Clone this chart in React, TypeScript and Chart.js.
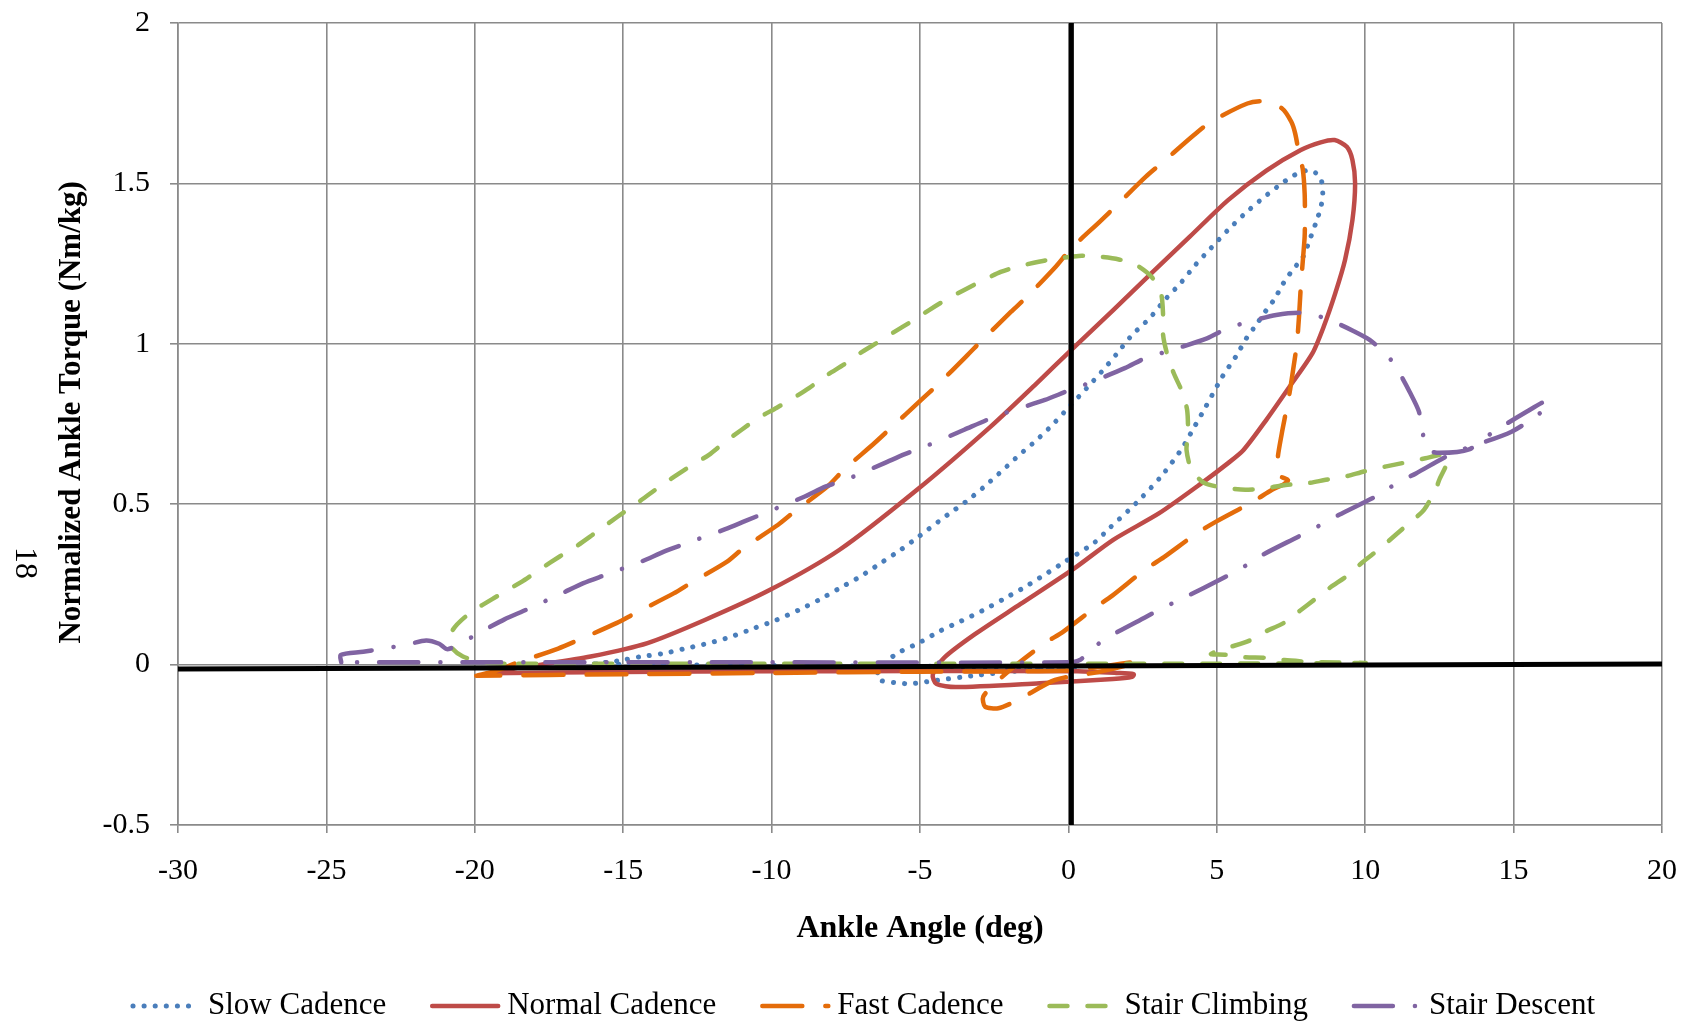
import React, { useEffect, useRef } from 'react';
import { Chart, registerables } from 'chart.js';

Chart.register(...registerables);

const FONT = "'Liberation Serif', 'Times New Roman', serif";

// ---- axes ----
const xTicks = [-30, -25, -20, -15, -10, -5, 0, 5, 10, 15, 20];
const xTickLabels = ['-30', '-25', '-20', '-15', '-10', '-5', '0', '5', '10', '15', '20'];
const yTicks = [-0.5, 0, 0.5, 1, 1.5, 2];
const yTickLabels = ['-0.5', '0', '0.5', '1', '1.5', '2'];

// ---- series (ankle angle deg, torque Nm/kg) ----
const slowX = [-15.97, -15.14, -14.39, -13.63, -12.87, -12.11, -11.36, -10.6, -9.84, -9.09, -8.4, -7.71, -7.02, -6.33, -5.65, -5.03, -4.07, -3.45, -2.83, -2.2, -1.65, -1.07, -0.49, 0.03, 0.61, 1.12, 1.64, 2.15, 2.74, 3.25, 3.77, 4.28, 4.8, 5.38, 5.96, 6.54, 7.19, 7.6, 8.0, 8.3, 8.52, 8.57, 8.52, 8.41, 8.15, 7.9, 7.57, 7.25, 6.95, 6.67, 6.28, 6.03, 5.64, 5.19, 4.6, 4.22, 3.83, 3.12, 2.28, 1.38, 0.86, -0.13, -0.84, -1.48, -2.19, -2.9, -3.61, -4.32, -5.03, -5.73, -6.12, -6.45, -6.3, -5.73, -5.35, -4.51, -3.16, -1.87, -0.45, 0.3, -4, -10, -15.97];
const slowY = [0.002, 0.012, 0.025, 0.035, 0.051, 0.067, 0.087, 0.113, 0.139, 0.17, 0.202, 0.238, 0.274, 0.316, 0.358, 0.4, 0.467, 0.508, 0.555, 0.607, 0.654, 0.7, 0.752, 0.804, 0.861, 0.913, 0.97, 1.028, 1.08, 1.137, 1.188, 1.246, 1.298, 1.355, 1.407, 1.453, 1.5, 1.525, 1.54, 1.535, 1.51, 1.469, 1.432, 1.396, 1.329, 1.27, 1.232, 1.19, 1.14, 1.105, 1.053, 1.022, 0.96, 0.898, 0.799, 0.737, 0.674, 0.586, 0.503, 0.425, 0.379, 0.32, 0.278, 0.241, 0.204, 0.168, 0.136, 0.105, 0.068, 0.037, 0.01, -0.03, -0.05, -0.057, -0.06, -0.05, -0.034, -0.021, -0.016, -0.012, -0.006, -0.003, 0.002];

const normalX = [-19.55, -18.7, -17.76, -16.1, -14.18, -12.25, -10.05, -7.71, -5.1, -2.62, -1.07, 0.09, 1.51, 2.8, 4.09, 5.38, 6.67, 7.83, 8.5, 8.97, 9.38, 9.57, 9.66, 9.57, 9.32, 8.99, 8.6, 8.22, 7.45, 6.67, 5.9, 5.38, 4.48, 3.06, 1.51, 0.2, -1.61, -3.16, -4.19, -4.57, -4.45, -3.8, -0.97, 1.5, 2.15, 2.2, 1.61, 0.32, -5, -10, -15, -19.55];
const normalY = [-0.027, -0.012, 0.0, 0.025, 0.067, 0.139, 0.233, 0.358, 0.545, 0.742, 0.877, 0.98, 1.105, 1.22, 1.334, 1.448, 1.54, 1.604, 1.628, 1.635, 1.614, 1.573, 1.5, 1.386, 1.261, 1.157, 1.053, 0.97, 0.866, 0.763, 0.669, 0.628, 0.565, 0.472, 0.389, 0.3, 0.189, 0.094, 0.021, -0.031, -0.06, -0.07, -0.058, -0.045, -0.038, -0.03, -0.026, -0.021, -0.02, -0.021, -0.023, -0.027];

const fastX = [-19.95, -19.3, -18.6, -17.19, -16.5, -15.21, -14.6, -13.3, -12.73, -11.5, -10.95, -9.78, -9.23, -8.12, -7.57, -6.54, -5.99, -4.96, -4.41, -3.45, -2.9, -1.93, -1.38, -0.42, 0.09, 1.06, 1.64, 2.61, 3.19, 4.22, 4.8, 6.03, 6.6, 7.19, 7.51, 7.64, 7.77, 7.9, 7.96, 7.97, 7.96, 7.9, 7.83, 7.77, 7.7, 7.57, 7.45, 7.32, 7.19, 7.05, 7.1, 7.4, 7.25, 6.86, 6.22, 4.96, 4.32, 3.22, 2.58, 1.48, 0.9, -0.17, -0.79, -1.74, -2.41, -2.87, -2.81, -2.36, -1.69, -0.45, 1.07, 2.41, 0, -5, -10, -15, -19.95];
const fastY = [-0.035, -0.02, 0.005, 0.05, 0.077, 0.13, 0.16, 0.222, 0.254, 0.321, 0.363, 0.436, 0.477, 0.555, 0.607, 0.69, 0.737, 0.825, 0.872, 0.96, 1.012, 1.1, 1.148, 1.241, 1.297, 1.381, 1.433, 1.521, 1.567, 1.65, 1.692, 1.749, 1.756, 1.734, 1.692, 1.656, 1.593, 1.542, 1.469, 1.4, 1.334, 1.261, 1.178, 1.085, 1.002, 0.918, 0.846, 0.783, 0.721, 0.64, 0.59, 0.575, 0.562, 0.545, 0.508, 0.445, 0.409, 0.335, 0.296, 0.215, 0.178, 0.103, 0.067, 0.0, -0.053, -0.1, -0.131, -0.136, -0.11, -0.048, -0.022, 0.01, -0.018, -0.022, -0.026, -0.03, -0.035];

const climbX = [-19.0, -19.7, -20.4, -20.8, -20.85, -20.6, -20.1, -19.4, -18.9, -18.24, -17.76, -17.14, -16.59, -16.04, -15.49, -14.87, -14.39, -13.77, -13.28, -12.66, -12.11, -11.56, -11.01, -10.46, -9.84, -9.29, -8.74, -8.12, -7.57, -7.02, -6.47, -5.85, -5.3, -4.68, -4.13, -3.51, -2.96, -2.28, -1.73, -1.0, -0.36, 0.35, 0.99, 1.7, 2.28, 2.8, 3.12, 3.19, 3.19, 3.32, 3.55, 3.83, 4.0, 4.03, 3.98, 4.15, 4.6, 5.38, 5.96, 6.67, 7.32, 8.03, 8.67, 9.32, 9.96, 10.67, 11.25, 12.03, 12.6, 12.8, 12.5, 12.37, 11.98, 11.53, 11.02, 10.5, 9.92, 9.41, 8.83, 8.31, 7.8, 7.28, 6.57, 6.06, 5.35, 4.8, 5.28, 5.93, 6.64, 7.28, 7.86, 8.25, 10.0, 5, 0, -10, -19.0];
const climbY = [0.003, 0.007, 0.025, 0.055, 0.09, 0.125, 0.165, 0.205, 0.232, 0.269, 0.3, 0.337, 0.368, 0.404, 0.441, 0.482, 0.513, 0.555, 0.586, 0.623, 0.654, 0.695, 0.732, 0.768, 0.8, 0.83, 0.862, 0.903, 0.935, 0.971, 1.002, 1.038, 1.069, 1.106, 1.137, 1.168, 1.194, 1.224, 1.24, 1.256, 1.266, 1.274, 1.272, 1.263, 1.246, 1.209, 1.157, 1.09, 1.028, 0.97, 0.908, 0.851, 0.794, 0.721, 0.669, 0.607, 0.565, 0.55, 0.545, 0.55, 0.56, 0.565, 0.576, 0.586, 0.602, 0.617, 0.628, 0.643, 0.654, 0.64, 0.577, 0.545, 0.482, 0.445, 0.404, 0.362, 0.32, 0.278, 0.241, 0.204, 0.168, 0.131, 0.1, 0.073, 0.052, 0.033, 0.031, 0.023, 0.021, 0.014, 0.01, 0.008, 0.005, 0.003, 0.003, 0.003, 0.003];

const descentX = [-24.5, -24.52, -23.76, -22.36, -21.64, -21.2, -20.9, -19.68, -19.0, -18.24, -17.07, -16.34, -15.58, -14.34, -13.63, -12.87, -11.56, -10.88, -10.19, -8.88, -8.19, -7.51, -6.2, -5.51, -4.75, -3.51, -2.79, -2.14, -0.79, -0.08, 0.67, 1.9, 2.63, 3.32, 4.67, 5.35, 6.09, 7.0, 7.8, 8.4, 8.93, 9.6, 10.15, 10.74, 11.16, 11.5, 11.81, 11.94, 12.1, 12.5, 13.5, 14.25, 15.45, 16.13, 16.09, 14.93, 12.94, 11.71, 11.06, 10.35, 9.12, 8.45, 7.77, 6.54, 5.86, 5.15, 3.93, 3.26, 2.58, 1.35, 0.73, 0.4, 0.0, -10, -20, -24.5];
const descentY = [0.007, 0.03, 0.04, 0.061, 0.075, 0.065, 0.048, 0.108, 0.141, 0.172, 0.222, 0.254, 0.28, 0.323, 0.352, 0.378, 0.422, 0.448, 0.474, 0.524, 0.555, 0.576, 0.628, 0.656, 0.683, 0.732, 0.761, 0.784, 0.825, 0.851, 0.877, 0.924, 0.957, 0.976, 1.017, 1.048, 1.069, 1.09, 1.097, 1.087, 1.069, 1.04, 1.012, 0.965, 0.908, 0.85, 0.789, 0.721, 0.67, 0.66, 0.671, 0.721, 0.789, 0.823, 0.799, 0.726, 0.658, 0.596, 0.565, 0.524, 0.467, 0.433, 0.4, 0.342, 0.302, 0.267, 0.21, 0.18, 0.147, 0.086, 0.045, 0.015, 0.007, 0.007, 0.007, 0.007];

// drawn reference axes (thick black lines)
const axisHX = [-30, 20];
const axisHY = [-0.014, 0.002];
const axisVX = [0.12, 0.1];
const axisVY = [-0.5, 2];

const seriesNames = ['Slow Cadence', 'Normal Cadence', 'Fast Cadence', 'Stair Climbing', 'Stair Descent'];

const pts = (xs: number[], ys: number[]) => xs.map((x, i) => ({ x, y: ys[i] }));

const series = (label: string, xs: number[], ys: number[], color: string, dash: number[], order: number, width = 4.5) => ({
  label,
  data: pts(xs, ys),
  showLine: true,
  borderColor: color,
  backgroundColor: color,
  borderWidth: width,
  borderDash: dash,
  borderCapStyle: 'round',
  borderJoinStyle: 'round',
  pointRadius: 0,
  pointHoverRadius: 0,
  tension: 0.25,
  order,
});

const legendPlugin = {
  id: 'customLegend',
  afterDraw(chart: any) {
    const ctx: CanvasRenderingContext2D = chart.ctx;
    ctx.save();
    ctx.font = `31px ${FONT}`;
    const ds = seriesNames.map((n) => chart.data.datasets.find((d: any) => d.label === n));
    const sampleW = 66;
    const textGap = 9;
    const itemGap = 46;
    const widths = seriesNames.map((n) => ctx.measureText(n).width);
    const total = widths.reduce((a, w) => a + sampleW + textGap + w, 0) + itemGap * (seriesNames.length - 1);
    let x = 864 - total / 2;
    const cy = 1006;
    seriesNames.forEach((name, i) => {
      const d = ds[i];
      ctx.save();
      ctx.strokeStyle = d.borderColor;
      ctx.lineWidth = d.borderWidth;
      ctx.lineCap = 'round';
      ctx.setLineDash(d.borderDash || []);
      ctx.beginPath();
      ctx.moveTo(x, cy);
      ctx.lineTo(x + sampleW, cy);
      ctx.stroke();
      ctx.restore();
      ctx.fillStyle = '#000';
      ctx.textAlign = 'left';
      ctx.textBaseline = 'middle';
      ctx.fillText(name, x + sampleW + textGap, cy);
      x += sampleW + textGap + widths[i] + itemGap;
    });
    // page number printed at the left margin
    ctx.translate(24, 563);
    ctx.rotate(Math.PI / 2);
    ctx.font = `32px ${FONT}`;
    ctx.textAlign = 'center';
    ctx.textBaseline = 'middle';
    ctx.fillText('18', 0, 0);
    ctx.restore();
  },
};

const GRID = '#8a8a8a';

export default function App() {
  const ref = useRef<HTMLCanvasElement>(null);
  useEffect(() => {
    document.body.style.margin = '0';
    const canvas = ref.current!;
    const chart = new Chart(canvas, {
      type: 'scatter',
      data: {
        datasets: [
          { label: '', isAxis: true, data: pts(axisHX, axisHY), showLine: true, borderColor: '#000', borderWidth: 5, pointRadius: 0, tension: 0, order: 0 } as any,
          { label: '', isAxis: true, data: pts(axisVX, axisVY), showLine: true, borderColor: '#000', borderWidth: 5, pointRadius: 0, tension: 0, order: 0 } as any,
          series(seriesNames[0], slowX, slowY, '#4A7EBB', [0.1, 11], 5, 5),
          series(seriesNames[1], normalX, normalY, '#BE4B48', [], 4),
          series(seriesNames[2], fastX, fastY, '#E46C0A', [40, 23], 3),
          series(seriesNames[3], climbX, climbY, '#9BBB59', [18, 20], 2),
          series(seriesNames[4], descentX, descentY, '#8064A2', [39, 22, 0.1, 22], 1),
        ] as any,
      },
      options: {
        animation: false,
        responsive: false,
        devicePixelRatio: 1,
        events: [],
        layout: { padding: { top: 23, right: 32, bottom: 0, left: 0 } },
        plugins: {
          legend: { display: false },
          tooltip: { enabled: false },
        },
        scales: {
          x: {
            type: 'linear',
            min: -30,
            max: 20,
            afterBuildTicks: (s: any) => { s.ticks = xTicks.map((v) => ({ value: v })); },
            afterFit: (s: any) => { s.height = 204; s.paddingLeft = 0; s.paddingRight = 0; },
            ticks: {
              font: { family: FONT, size: 30 },
              color: '#000',
              padding: 20,
              maxRotation: 0,
              autoSkip: false,
              callback: (v: any) => xTickLabels[xTicks.indexOf(Number(v))] ?? '',
            },
            grid: { color: GRID, lineWidth: 1.6, tickLength: 8, drawTicks: true },
            border: { display: true, color: GRID, width: 1.6 },
            title: {
              display: true,
              text: 'Ankle Angle (deg)',
              font: { family: FONT, size: 32, weight: 'bold' },
              color: '#000',
              padding: { top: 0, bottom: 81 },
            },
          },
          y: {
            type: 'linear',
            min: -0.5,
            max: 2,
            afterBuildTicks: (s: any) => { s.ticks = yTicks.map((v) => ({ value: v })); },
            afterFit: (s: any) => { s.width = 178; s.paddingTop = 0; s.paddingBottom = 0; },
            ticks: {
              font: { family: FONT, size: 30 },
              color: '#000',
              padding: 20,
              autoSkip: false,
              callback: (v: any) => yTickLabels[yTicks.indexOf(Number(v))] ?? '',
            },
            grid: { color: GRID, lineWidth: 1.6, tickLength: 8, drawTicks: true },
            border: { display: true, color: GRID, width: 1.6 },
            title: {
              display: true,
              text: '   Normalized Ankle Torque (Nm/kg)',
              font: { family: FONT, size: 31, weight: 'bold' },
              color: '#000',
              padding: { top: 53, bottom: 0 },
            },
          },
        },
      } as any,
      plugins: [legendPlugin],
    });
    return () => chart.destroy();
  }, []);
  return (
    <div style={{ width: 1694, height: 1029, background: '#fff' }}>
      <canvas ref={ref} width={1694} height={1029} style={{ display: 'block', width: 1694, height: 1029 }} />
    </div>
  );
}
